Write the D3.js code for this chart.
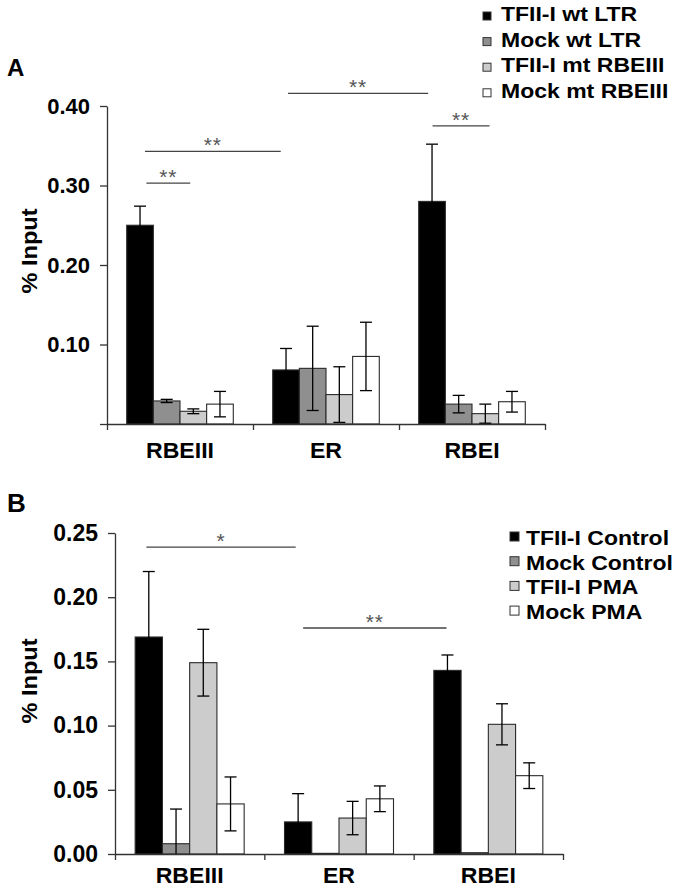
<!DOCTYPE html>
<html>
<head>
<meta charset="utf-8">
<script src="https://cdn.jsdelivr.net/npm/d3@7/dist/d3.min.js"></script>
<style>
  html, body { margin: 0; padding: 0; background: #fff; }
  svg { display: block; }
  text { font-family: "Liberation Sans", Arial, Helvetica, sans-serif; }
</style>
</head>
<body>
<svg id="chart" width="683" height="889"></svg>
<script>
// ---------------- DATA ----------------
const categories = ["RBEIII", "ER", "RBEI"];

// Panel A
const seriesA = ["TFII-I wt LTR", "Mock wt LTR", "TFII-I mt RBEIII", "Mock mt RBEIII"];
const tfWtLTR      = [0.250, 0.068, 0.280];
const tfWtLTRErr   = [0.024, 0.027, 0.072];
const mockWtLTR    = [0.029, 0.070, 0.025];
const mockWtLTRErr = [0.002, 0.053, 0.011];
const tfMtRBE      = [0.016, 0.037, 0.013];
const tfMtRBEErr   = [0.003, 0.035, 0.012];
const mockMtRBE    = [0.025, 0.085, 0.028];
const mockMtRBEErr = [0.016, 0.043, 0.013];
const ticksA = [0, 0.10, 0.20, 0.30, 0.40];
const tickLabelsA = ["", "0.10", "0.20", "0.30", "0.40"];
// significance: from/to in category units (0..3), y in data units
const sigA = [
  { from: 0.27, to: 0.57, y: 0.303, label: "**" },
  { from: 0.26, to: 1.19, y: 0.343, label: "**" },
  { from: 1.24, to: 2.20, y: 0.416, label: "**" },
  { from: 2.23, to: 2.62, y: 0.375, label: "**" }
];

// Panel B
const seriesB = ["TFII-I Control", "Mock Control", "TFII-I PMA", "Mock PMA"];
const tfControl      = [0.169, 0.025, 0.143];
const tfControlErr   = [0.051, 0.022, 0.012];
const mockControl    = [0.008, 0.0005, 0.001];
const mockControlErr = [0.027, 0, 0];
const tfPMA          = [0.149, 0.028, 0.101];
const tfPMAErr       = [0.026, 0.013, 0.016];
const mockPMA        = [0.039, 0.043, 0.061];
const mockPMAErr     = [0.021, 0.010, 0.010];
const ticksB = [0, 0.05, 0.10, 0.15, 0.20, 0.25];
const tickLabelsB = ["0.00", "0.05", "0.10", "0.15", "0.20", "0.25"];
const sigB = [
  { from: 0.21, to: 1.21, y: 0.239, label: "*" },
  { from: 1.26, to: 2.22, y: 0.176, label: "**" }
];

const fills = ["#000000", "#8f8f8f", "#cccccc", "#ffffff"];

// ---------------- DRAW ----------------
const svg = d3.select("#chart");

function stext(g, x, y, str, opts) {
  const t = g.append("text")
    .attr("transform", `translate(${x},${y})` + (opts.rotate ? ` rotate(${opts.rotate})` : "") + ` scale(${opts.sx || 1},1)`)
    .attr("text-anchor", opts.anchor || "start")
    .attr("font-size", opts.size)
    .attr("font-weight", opts.weight || "bold")
    .attr("fill", opts.fill || "#000")
    .text(str);
  if (opts.spacing) t.attr("letter-spacing", opts.spacing);
  return t;
}

function panel(cfg) {
  const g = svg.append("g");
  const y = d3.scaleLinear().domain([0, cfg.yMax]).range([cfg.bottom, cfg.top]);
  const xPos = d3.scaleLinear().domain([0, categories.length]).range([cfg.left, cfg.right]);
  const x0 = d3.scaleBand().domain(categories).range([cfg.left, cfg.right]).paddingInner(0).paddingOuter(0);
  const x1 = d3.scaleBand().domain(cfg.series).range([0, x0.bandwidth()]).paddingInner(0).paddingOuter(0.74);

  // bars
  const rows = [];
  cfg.series.forEach((s, si) => {
    categories.forEach((c, ci) => {
      rows.push({ s, si, c, v: cfg.values[si][ci], e: cfg.errors[si][ci] });
    });
  });
  g.append("g").selectAll("rect").data(rows).join("rect")
    .attr("x", d => x0(d.c) + x1(d.s))
    .attr("y", d => y(d.v))
    .attr("width", x1.bandwidth())
    .attr("height", d => y(0) - y(d.v))
    .attr("fill", d => fills[d.si])
    .attr("stroke", "#2a2a2a")
    .attr("stroke-width", 1.1);

  // error bars
  const eg = g.append("g").attr("stroke", "#000").attr("stroke-width", 1.3);
  const cap = 6;
  rows.filter(d => d.e > 0).forEach(d => {
    const cx = x0(d.c) + x1(d.s) + x1.bandwidth() / 2;
    const hi = d.v + d.e, lo = Math.max(0, d.v - d.e);
    eg.append("line").attr("x1", cx).attr("x2", cx).attr("y1", y(hi)).attr("y2", y(lo));
    eg.append("line").attr("x1", cx - cap).attr("x2", cx + cap).attr("y1", y(hi)).attr("y2", y(hi));
    if (d.v - d.e > 0) {
      eg.append("line").attr("x1", cx - cap).attr("x2", cx + cap).attr("y1", y(lo)).attr("y2", y(lo));
    }
  });

  // y axis
  const ya = g.append("g").attr("transform", `translate(${cfg.left},0)`)
    .call(d3.axisLeft(y).tickValues(cfg.ticks).tickSize(7).tickSizeOuter(0).tickPadding(10)
      .tickFormat((d, i) => cfg.tickLabels[i]));
  ya.select(".domain").attr("stroke", "#333").attr("stroke-width", 1.3);
  ya.selectAll(".tick line").attr("stroke", "#333").attr("stroke-width", 1.3);
  ya.selectAll(".tick text").attr("font-size", cfg.tickSize).attr("font-weight", "bold")
    .attr("fill", "#000").attr("font-family", '"Liberation Sans", Arial, sans-serif');

  // x axis
  const xa = g.append("g").attr("transform", `translate(0,${cfg.bottom})`)
    .call(d3.axisBottom(xPos).tickValues(d3.range(categories.length + 1)).tickSize(6).tickSizeOuter(0).tickFormat(""));
  xa.select(".domain").attr("stroke", "#333").attr("stroke-width", 1.3);
  xa.selectAll(".tick line").attr("stroke", "#333").attr("stroke-width", 1.3);

  categories.forEach(c => {
    stext(g, x0(c) + x0.bandwidth() / 2, cfg.bottom + cfg.catOffset, c, { size: 22, sx: 1.05, anchor: "middle" });
  });

  // y title
  stext(g, cfg.titleX, cfg.titleY, "% Input", { size: 22, sx: 1.07, anchor: "middle", rotate: -90 });

  // panel letter
  stext(g, cfg.letterX, cfg.letterY, cfg.letter, { size: cfg.letterSize, sx: 1.0 });

  // significance
  cfg.sig.forEach(s => {
    g.append("line")
      .attr("x1", xPos(s.from)).attr("x2", xPos(s.to))
      .attr("y1", y(s.y)).attr("y2", y(s.y))
      .attr("stroke", "#444").attr("stroke-width", 1.3);
    stext(g, (xPos(s.from) + xPos(s.to)) / 2, y(s.y) + 1, s.label,
      { size: 21, weight: "normal", anchor: "middle", fill: "#555", spacing: 1 });
  });

  // legend
  const lg = g.append("g");
  cfg.series.forEach((s, i) => {
    const by = cfg.legY + i * cfg.legStep;
    lg.append("rect")
      .attr("x", cfg.legSqX).attr("y", by - cfg.legSqOff)
      .attr("width", cfg.legSq).attr("height", cfg.legSq)
      .attr("fill", fills[i]).attr("stroke", "#333").attr("stroke-width", 1);
    stext(lg, cfg.legTextX, by, s, { size: 20, sx: 1.15 });
  });
}

panel({
  series: seriesA,
  values: [tfWtLTR, mockWtLTR, tfMtRBE, mockMtRBE],
  errors: [tfWtLTRErr, mockWtLTRErr, tfMtRBEErr, mockMtRBEErr],
  yMax: 0.40, top: 106, bottom: 424, left: 107, right: 545,
  ticks: ticksA, tickLabels: tickLabelsA, tickSize: 22,
  catOffset: 34, titleX: 37, titleY: 251,
  letter: "A", letterX: 7, letterY: 76, letterSize: 24,
  sig: sigA,
  legY: 21, legStep: 25.6, legSqX: 483, legSq: 8, legSqOff: 9, legTextX: 501
});

panel({
  series: seriesB,
  values: [tfControl, mockControl, tfPMA, mockPMA],
  errors: [tfControlErr, mockControlErr, tfPMAErr, mockPMAErr],
  yMax: 0.25, top: 533, bottom: 854, left: 115, right: 563,
  ticks: ticksB, tickLabels: tickLabelsB, tickSize: 23,
  catOffset: 29, titleX: 37, titleY: 681,
  letter: "B", letterX: 7, letterY: 512, letterSize: 26,
  sig: sigB,
  legY: 545, legStep: 24.7, legSqX: 510, legSq: 9, legSqOff: 13, legTextX: 526
});
</script>
</body>
</html>
